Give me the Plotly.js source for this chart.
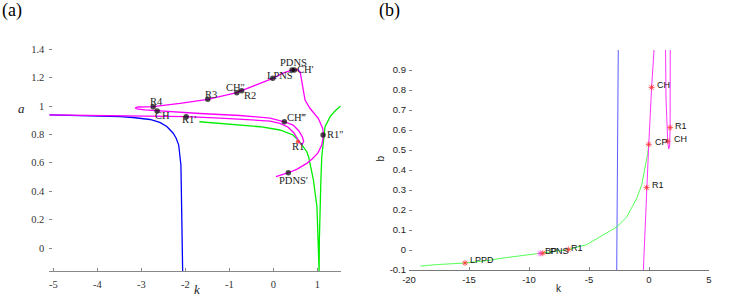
<!DOCTYPE html>
<html><head><meta charset="utf-8">
<script src="https://cdn.plot.ly/plotly-3.0.1.min.js"></script>
<style>html,body{margin:0;padding:0;background:#fff}#chart{width:747px;height:304px}</style>
</head><body><div id="chart"></div>
<script>
// ================= DATA: panel (a) =================
const blueK_a = [-5.09,-3.94,-3.48,-3.19,-2.80,-2.58,-2.42,-2.28,-2.21,-2.15,-2.12,-2.10,-2.09,-2.075,-2.06];
const blueA_a = [0.937,0.932,0.925,0.919,0.905,0.884,0.856,0.810,0.775,0.725,0.655,0.585,0.408,0.127,-0.17];

const greenK_a = [-1.68,-0.98,-0.30,0.15,0.45,0.595,0.76,0.80,0.91,0.99,1.02,1.04,1.045,1.06,1.08,1.10,1.14,1.175,1.29,1.40,1.53];
const greenA_a = [0.889,0.870,0.854,0.831,0.796,0.749,0.678,0.643,0.479,0.291,0.056,-0.17,0.056,0.291,0.479,0.643,0.761,0.854,0.925,0.965,1.0];

const magentaK_a = [-5.09,-3.94,-3.03,-2.42,-1.98,-1.21,-0.53,-0.075,0.15,0.33,0.47,0.56,0.61,0.65,0.69,0.66,0.58,0.45,0.25,-0.075,-0.76,-1.67,-2.35,-2.64,-2.92,-3.10,-3.14,-3.08,-2.73,-2.12,-1.49,-1.10,-0.83,-0.72,-0.35,-0.014,0.22,0.425,0.477,0.555,0.61,0.645,0.675,0.72,0.83,1.02,1.12,1.14,1.10,1.01,0.88,0.76,0.53,0.34,0.06];
const magentaA_a = [0.937,0.933,0.930,0.926,0.925,0.915,0.905,0.894,0.878,0.852,0.810,0.761,0.736,0.729,0.750,0.782,0.824,0.866,0.889,0.915,0.933,0.947,0.959,0.965,0.973,0.980,0.986,0.993,0.995,1.018,1.047,1.074,1.094,1.108,1.151,1.195,1.232,1.254,1.254,1.257,1.239,1.183,1.113,1.042,0.984,0.913,0.843,0.796,0.725,0.668,0.627,0.596,0.554,0.530,0.502];

const labelsA = ['PDNS','CH\u2032','LPNS','CH\u2033','R2','R3','R4','CH','R1\u2032','CH\u2034','R1','R1\u2033','PDNS\u2032'];
const kPtsA = [0.425,0.477,-0.014,-0.83,-0.72,-1.49,-2.73,-2.64,-1.98,0.25,0.555,1.13,0.34];
const aPtsA = [1.254,1.254,1.195,1.094,1.108,1.047,0.995,0.965,0.925,0.889,0.749,0.796,0.530];

const xTickVals_a = [-5,-4,-3,-2,-1,0,1];
const xTickText_a = ['-5','-4','-3','-2','-1','0','1'];
const yTickVals_a = [0,0.2,0.4,0.6,0.8,1,1.2,1.4];
const yTickText_a = ['0','0.2','0.4','0.6','0.8','1','1.2','1.4'];

// ================= DATA: panel (b) =================
const blueK_b = [-2.56,-2.625,-2.69];
const blueB_b = [1.0,0.45,-0.10];

const greenK_b = [-19.03,-17.7,-15.33,-13.5,-12.14,-9.08,-6.72,-5.19,-3.81,-2.69,-1.86,-1.03,-0.61,-0.33,-0.11,-0.02];
const greenB_b = [-0.080,-0.073,-0.065,-0.053,-0.040,-0.017,0.002,0.027,0.074,0.115,0.165,0.257,0.324,0.407,0.482,0.528];

const magentaK_b1 = [-0.47,-0.20,-0.02,0.22,0.42];
const magentaB_b1 = [-0.10,0.312,0.528,0.813,1.0];

const magentaK_b2 = [1.38,1.42,1.56,1.64,1.72,1.76,1.77];
const magentaB_b2 = [1.0,0.75,0.544,0.505,0.52,0.612,1.0];

const labelsB = ['CH','R1','CH','CP','R1','R1','BP','PNS','LPPD'];
const kPtsB = [0.22,1.76,1.56,-0.02,-0.20,-6.72,-9.08,-8.85,-15.33];
const bPtsB = [0.813,0.612,0.544,0.528,0.312,0.002,-0.017,-0.016,-0.065];

const xTickVals_b = [-20,-15,-10,-5,0,5];
const xTickText_b = ['-20','-15','-10','-5','0','5'];
const yTickVals_b = [-0.1,0,0.1,0.2,0.3,0.4,0.5,0.6,0.7,0.8,0.9];
const yTickText_b = ['-0.1','0','0.1','0.2','0.3','0.4','0.5','0.6','0.7','0.8','0.9'];

// ================= STYLE (label placement, px) =================
const labelStyleA = [
  {anchor:'center', dx:1.5, dy:7},
  {anchor:'left', dx:1, dy:0.5},
  {anchor:'center', dx:7.5, dy:3.3},
  {anchor:'center', dx:-1, dy:5.4},
  {anchor:'left', dx:0.3, dy:-5},
  {anchor:'center', dx:2.8, dy:5.3},
  {anchor:'center', dx:3.2, dy:5},
  {anchor:'center', dx:5.2, dy:-5},
  {anchor:'center', dx:3, dy:-2.6},
  {anchor:'left', dx:0.7, dy:4.4},
  {anchor:'center', dx:0.3, dy:-5},
  {anchor:'left', dx:2.3, dy:0},
  {anchor:'center', dx:4.7, dy:-7.6}
];
const labelStyleB = [
  {dx:3.3, dy:2.3},{dx:2.7, dy:2},{dx:4.3, dy:2.3},{dx:4, dy:2.6},{dx:3.4, dy:2.3},
  {dx:1, dy:2},{dx:2.7, dy:2.3},{dx:5.5, dy:2.3},{dx:3.3, dy:2.7}
];

const SERIF = 'Liberation Serif, Times New Roman, serif';
const SANS = 'Liberation Sans, Arial, sans-serif';
const W = 747, H = 304;
const markerColB = labelsB.map(l => l === 'BP' ? '#ff44ff' : '#ff3333');

const traces = [
  {x: blueK_a, y: blueA_a, xaxis:'x', yaxis:'y', mode:'lines', line:{color:'#0000ff', width:1.3}},
  {x: greenK_a, y: greenA_a, xaxis:'x', yaxis:'y', mode:'lines', line:{color:'#00ee00', width:1.3}},
  {x: magentaK_a, y: magentaA_a, xaxis:'x', yaxis:'y', mode:'lines', line:{color:'#ff00ff', width:1.3}},
  {x: kPtsA, y: aPtsA, xaxis:'x', yaxis:'y', mode:'markers',
   marker:{color: labelsA.map(l => l === 'R1' ? '#ff2200' : '#000000'), size: labelsA.map(l => l === 'R1' ? 4 : 5.5), line:{width:0}}},

  {x: blueK_b, y: blueB_b, xaxis:'x2', yaxis:'y2', mode:'lines', line:{color:'#4a4aff', width:0.9}},
  {x: greenK_b, y: greenB_b, xaxis:'x2', yaxis:'y2', mode:'lines', line:{color:'#44ff44', width:0.9}},
  {x: magentaK_b1, y: magentaB_b1, xaxis:'x2', yaxis:'y2', mode:'lines', line:{color:'#ff33ff', width:1}},
  {x: magentaK_b2, y: magentaB_b2, xaxis:'x2', yaxis:'y2', mode:'lines', line:{color:'#ff33ff', width:1}},
  {x: kPtsB, y: bPtsB, xaxis:'x2', yaxis:'y2', mode:'markers',
   marker:{symbol:'asterisk-open', size:5, color: markerColB, line:{width:0.8, color: markerColB}}}
];

const annotations = [];
labelsA.forEach((t, i) => {
  const s = labelStyleA[i];
  annotations.push({x: kPtsA[i], y: aPtsA[i], xref:'x', yref:'y', text: t, showarrow:false,
    xanchor: s.anchor, yanchor:'middle', xshift: s.dx, yshift: s.dy,
    font:{family: SERIF, size: 10.5, color:'#222'}});
});
labelsB.forEach((t, i) => {
  const s = labelStyleB[i];
  annotations.push({x: kPtsB[i], y: bPtsB[i], xref:'x2', yref:'y2', text: t, showarrow:false,
    xanchor:'left', yanchor:'middle', xshift: s.dx, yshift: s.dy,
    font:{family: SANS, size: 9, color:'#111'}});
});
// panel tags and axis titles
annotations.push({xref:'paper', yref:'paper', x:0/W, y:1-10/H, xanchor:'left', yanchor:'middle', text:'(a)', showarrow:false, font:{family:SERIF, size:18, color:'#000'}});
annotations.push({xref:'paper', yref:'paper', x:377/W, y:1-10/H, xanchor:'left', yanchor:'middle', text:'(b)', showarrow:false, font:{family:SERIF, size:18, color:'#000'}});
annotations.push({xref:'paper', yref:'paper', x:21/W, y:1-108/H, xanchor:'center', yanchor:'middle', text:'<i>a</i>', showarrow:false, font:{family:SERIF, size:13, color:'#222'}});
annotations.push({xref:'paper', yref:'paper', x:196.5/W, y:1-289/H, xanchor:'center', yanchor:'middle', text:'<i>k</i>', showarrow:false, font:{family:SERIF, size:13, color:'#222'}});
annotations.push({xref:'paper', yref:'paper', x:559/W, y:1-288/H, xanchor:'center', yanchor:'middle', text:'k', showarrow:false, font:{family:SANS, size:10, color:'#222'}});
annotations.push({xref:'paper', yref:'paper', x:380/W, y:1-158.5/H, xanchor:'center', yanchor:'middle', text:'b', textangle:-90, showarrow:false, font:{family:SANS, size:10, color:'#222'}});

const axA = {showgrid:false, zeroline:false, ticks:'inside', ticklen:3, tickwidth:1, tickcolor:'#888',
  tickfont:{family:SERIF, size:10.5, color:'#333'}};
const axB = {showgrid:false, zeroline:false, ticks:'inside', ticklen:3, tickwidth:1, tickcolor:'#888',
  tickfont:{family:SANS, size:9.5, color:'#222'}};

const layout = {
  width: W, height: H, margin:{l:0, r:0, t:0, b:0}, showlegend:false,
  paper_bgcolor:'#fff', plot_bgcolor:'rgba(0,0,0,0)',
  xaxis: Object.assign({}, axA, {domain:[49.3/W, 340.7/W], range:[-5.09,1.53], anchor:'y',
    showline:true, linecolor:'#888', linewidth:1, tickmode:'array', tickvals:xTickVals_a, ticktext:xTickText_a, ticklabelstandoff:3}),
  yaxis: Object.assign({}, axA, {domain:[1-271/H, 1-35/H], range:[-0.162,1.5], anchor:'x',
    showline:false, tickmode:'array', tickvals:yTickVals_a, ticktext:yTickText_a, ticklabelstandoff:4}),
  xaxis2: Object.assign({}, axB, {domain:[409/W, 709/W], range:[-20,5], anchor:'y2',
    showline:true, linecolor:'#777', linewidth:1, tickmode:'array', tickvals:xTickVals_b, ticktext:xTickText_b, ticklabelstandoff:1}),
  yaxis2: Object.assign({}, axB, {domain:[1-270/H, 1-50/H], range:[-0.1,1.0], anchor:'x2',
    showline:false, tickmode:'array', tickvals:yTickVals_b, ticktext:yTickText_b, ticklabelstandoff:2}),
  annotations: annotations
};

Plotly.newPlot('chart', traces, layout, {displayModeBar:false, staticPlot:true});
</script>
</body></html>
